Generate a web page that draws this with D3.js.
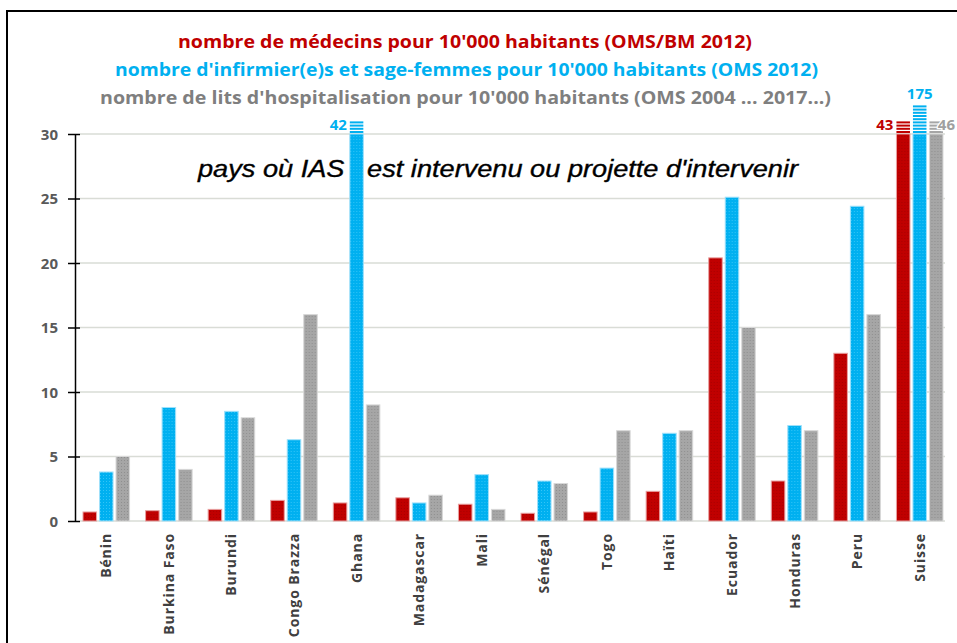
<!DOCTYPE html>
<html>
<head>
<meta charset="utf-8">
<script src="https://cdn.jsdelivr.net/npm/d3@7"></script>
<style>
  body { margin: 0; background: #fff; }
  svg { display: block; }
  .title { font-family: "Open Sans", "DejaVu Sans", sans-serif; font-weight: 700; }
  .tick-label { font-family: "Open Sans", sans-serif; font-weight: 700; fill: #595959; font-size: 15px; }
  .cat-label { font-family: "Open Sans", sans-serif; font-weight: 700; fill: #404040; font-size: 14px; letter-spacing: 0.9px; }
  .note { font-family: "Liberation Sans", Arial, sans-serif; font-style: italic; font-size: 23px; fill: #000; stroke: #000; stroke-width: 0.35px; }
  .cap-label { font-family: "Open Sans", sans-serif; font-weight: 700; font-size: 15px; }
  .cap-label.halo { paint-order: stroke; stroke: #fff; stroke-width: 2.5px; }
</style>
</head>
<body>
<div id="chart"></div>
<script>
var countries = ['Bénin', 'Burkina Faso', 'Burundi', 'Congo Brazza', 'Ghana', 'Madagascar',
                 'Mali', 'Sénégal', 'Togo', 'Haïti', 'Ecuador', 'Honduras', 'Peru', 'Suisse'];
var medecins    = [0.7, 0.8, 0.9, 1.6, 1.4, 1.8, 1.3, 0.6, 0.7, 2.3, 20.4, 3.1, 13.0, 43];
var infirmiers  = [3.8, 8.8, 8.5, 6.3, 42, 1.4, 3.6, 3.1, 4.1, 6.8, 25.1, 7.4, 24.4, 175];
var lits        = [5.0, 4.0, 8.0, 16.0, 9.0, 2.0, 0.9, 2.9, 7.0, 7.0, 15.0, 7.0, 16.0, 46];
var yTicks = [0, 5, 10, 15, 20, 25, 30];
var titles = [
  "nombre de médecins pour 10'000 habitants (OMS/BM 2012)",
  "nombre d'infirmier(e)s et sage-femmes pour 10'000 habitants (OMS 2012)",
  "nombre de lits d'hospitalisation pour 10'000 habitants (OMS 2004 ... 2017...)"
];
var note = "pays où IAS   est intervenu ou projette d'intervenir";

var series = [
  {key: 'med', values: medecins, color: '#c00000', edge: '#e8a0a0', dot: '#a80000'},
  {key: 'inf', values: infirmiers, color: '#00b0f0', edge: '#9fe0fa', dot: '#33c4f7'},
  {key: 'lit', values: lits, color: '#a6a6a6', edge: '#d8d8d8', dot: '#8f8f8f'}
];

var width = 957, height = 643;
var svg = d3.select('#chart').append('svg')
  .attr('width', width)
  .attr('height', height);

// dotted texture like the original
var defs = svg.append('defs');
series.forEach(function(s) {
  var p = defs.append('pattern')
    .attr('id', 'pat-' + s.key)
    .attr('width', 3).attr('height', 3)
    .attr('patternUnits', 'userSpaceOnUse');
  p.append('rect').attr('width', 3).attr('height', 3).attr('fill', s.color);
  p.append('rect').attr('x', 1).attr('y', 1).attr('width', 1).attr('height', 1).attr('fill', s.dot);
});

// outer frame
svg.append('rect')
  .attr('x', 7).attr('y', 11)
  .attr('width', 970).attr('height', 660)
  .attr('fill', 'none')
  .attr('stroke', '#000')
  .attr('stroke-width', 2);

// titles
var titleColors = ['#c00000', '#00b0f0', '#7f7f7f'];
var titleX = [[178, 752], [115, 818], [100, 831]];
var titleY = [48, 76, 104];
svg.selectAll('.title')
  .data(titles)
  .enter().append('text')
    .attr('class', 'title')
    .attr('x', function(d, i) { return titleX[i][0]; })
    .attr('y', function(d, i) { return titleY[i]; })
    .attr('font-size', 17)
    .attr('textLength', function(d, i) { return titleX[i][1] - titleX[i][0]; })
    .attr('lengthAdjust', 'spacingAndGlyphs')
    .attr('fill', function(d, i) { return titleColors[i]; })
    .text(function(d) { return d; });

var x0 = d3.scaleBand()
  .domain(countries)
  .range([75, 951]);

var x1 = d3.scaleBand()
  .domain(series.map(function(s) { return s.key; }))
  .range([0, x0.bandwidth()])
  .paddingInner(0.18)
  .paddingOuter(0.485);

var y = d3.scaleLinear()
  .domain([0, 30])
  .range([521, 134]);

// grid lines
svg.append('g')
  .selectAll('line')
  .data(yTicks)
  .enter().append('line')
    .attr('x1', 80).attr('x2', 945)
    .attr('y1', function(d) { return y(d); })
    .attr('y2', function(d) { return y(d); })
    .attr('stroke', '#d9dcd6')
    .attr('stroke-width', 1.5);

// y axis
var yAxis = d3.axisLeft(y)
  .tickValues(yTicks)
  .tickSize(7)
  .tickSizeOuter(0);

var yg = svg.append('g')
  .attr('transform', 'translate(75,0)')
  .call(yAxis);
yg.select('.domain').attr('stroke', '#000').attr('stroke-width', 1.5);
yg.selectAll('.tick line').attr('stroke', '#000').attr('stroke-width', 1.5).attr('x2', -7).clone().attr('x2', 5);
yg.selectAll('.tick text')
  .attr('class', 'tick-label')
  .attr('x', -17)
  .attr('dy', '0.35em')
  .attr('font-family', null)
  .attr('font-size', null);

// note text (drawn before bars so the Ghana bar covers it)
svg.append('text')
  .attr('class', 'note')
  .attr('x', 198)
  .attr('y', 177)
  .attr('textLength', 600)
  .attr('lengthAdjust', 'spacingAndGlyphs')
  .style('white-space', 'pre')
  .text(note);

// bars
var maxY = y.domain()[1];
var groups = svg.append('g')
  .selectAll('g')
  .data(countries)
  .enter().append('g')
    .attr('transform', function(d) { return 'translate(' + x0(d) + ',0)'; });

groups.each(function(c, ci) {
  var g = d3.select(this);
  series.forEach(function(s) {
    var v = s.values[ci];
    var bx = x1(s.key), bw = x1.bandwidth();
    var top = y(Math.min(v, maxY));
    g.append('rect')
      .attr('x', bx)
      .attr('y', top)
      .attr('width', bw)
      .attr('height', y(0) - top)
      .attr('fill', 'url(#pat-' + s.key + ')')
      .attr('stroke', s.edge)
      .attr('stroke-width', 1);

    if (v > maxY) {
      // broken bar: stripes above the axis top
      var n = v > 100 ? 9 : 4;
      d3.range(n).forEach(function(k) {
        g.append('rect')
          .attr('x', bx)
          .attr('y', top - 3 - k * 3.2)
          .attr('width', bw)
          .attr('height', 2)
          .attr('fill', s.color);
      });
    }
  });
});

// labels for broken bars
var capLabels = [];
series.forEach(function(s) {
  s.values.forEach(function(v, ci) {
    if (v > maxY) capLabels.push({s: s, v: v, c: countries[ci]});
  });
});
svg.selectAll('.cap-label')
  .data(capLabels)
  .enter().append('text')
    .attr('class', function(d) { return d.s.key === 'lit' ? 'cap-label halo' : 'cap-label'; })
    .attr('fill', function(d) { return d.s.key === 'lit' ? '#a0a0a0' : d.s.color; })
    .attr('font-size', function(d) { return d.s.key === 'lit' ? 11 : null; })
    .attr('x', function(d) {
      var bx = x0(d.c) + x1(d.s.key);
      if (d.s.key === 'med' || (d.s.key === 'inf' && d.v < 100)) return bx - 3;
      if (d.s.key === 'lit') return width - 2;   // keep inside the picture
      return bx + x1.bandwidth() / 2;
    })
    .attr('y', function(d) {
      return d.v > 100 ? y(maxY) - 35 : y(maxY) - 4;
    })
    .attr('text-anchor', function(d) {
      if (d.s.key === 'med' || (d.s.key === 'inf' && d.v < 100)) return 'end';
      if (d.s.key === 'lit') return 'end';
      return 'middle';
    })
    .text(function(d) { return d.v; });

// category labels
svg.append('g')
  .selectAll('text')
  .data(countries)
  .enter().append('text')
    .attr('class', 'cat-label')
    .attr('transform', function(d) {
      return 'translate(' + (x0(d) + x0.bandwidth() / 2 + 5) + ',533) rotate(-90)';
    })
    .attr('text-anchor', 'end')
    .text(function(d) { return d; });
</script>
</body>
</html>
